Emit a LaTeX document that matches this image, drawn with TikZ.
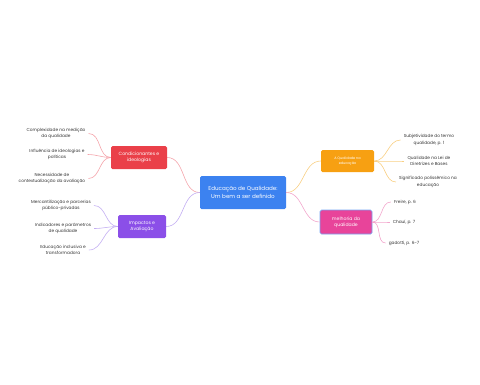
\documentclass[tikz,border=0pt]{standalone}
\usepackage{fontspec}
\setmainfont{Poppins}
\begin{document}
\begin{tikzpicture}[x=1pt,y=-1pt,
  box/.style={rounded corners=1.5pt, text=white, align=center, inner sep=0pt, font=\fontsize{4.6}{6}\selectfont},
  leaf/.style={align=center, inner sep=1pt, font=\fontsize{4.3}{6.2}\selectfont, text=black!80},
  con/.style={line width=0.6pt},
]
\useasboundingbox (0,0) rectangle (480,384);
\definecolor{cblue}{HTML}{3C82F0}
\definecolor{cred}{HTML}{EA4049}
\definecolor{cpurple}{HTML}{8B4FE8}
\definecolor{corange}{HTML}{F7A012}
\definecolor{cpink}{HTML}{E8449A}
\definecolor{lred}{HTML}{F4A3AA}
\definecolor{lpurple}{HTML}{C3AEF2}
\definecolor{lorange}{HTML}{F8CF84}
\definecolor{lpink}{HTML}{F2A6CC}

\node[box, fill=cblue, minimum width=86pt, minimum height=33pt, font=\fontsize{5.6}{7.4}\selectfont] (c) at (243,192.5) {Educação de Qualidade:\\Um bem a ser definido};
\node[box, fill=cred, minimum width=56pt, minimum height=23pt] (r) at (139,157.5) {Condicionantes e\\ideologias};
\node[box, fill=cpurple, minimum width=48pt, minimum height=23pt] (p) at (142,226.5) {Impactos e\\Avaliação};
\node[box, fill=corange, minimum width=53pt, minimum height=22pt, font=\fontsize{3.4}{4.6}\selectfont] (o) at (347.5,161) {A Qualidade na\\educação};
\node[box, fill=cpink, draw=cblue!70, line width=0.7pt, minimum width=52pt, minimum height=24pt] (k) at (346,222) {melhoria da\\qualidade};

\draw[con, lred] (c.west) to[out=180,in=0] (r.east);
\draw[con, lpurple] (c.west) to[out=180,in=0] (p.east);
\draw[con, lorange] (c.east) to[out=0,in=180] (o.west);
\draw[con, lpink] (c.east) to[out=0,in=180] (k.west);

\node[leaf] (r1) at (56,133.5) {Complexidade na medição\\da qualidade};
\node[leaf] (r2) at (57,154.5) {Influência de ideologias e\\políticas};
\node[leaf] (r3) at (52,178.5) {Necessidade de\\contextualização da avaliação};
\node[leaf] (p1) at (61,205.5) {Mercantilização e parcerias\\público-privadas};
\node[leaf] (p2) at (63,228.5) {Indicadores e parâmetros\\de qualidade};
\node[leaf] (p3) at (63,250) {Educação inclusiva e\\transformadora};
\node[leaf] (o1) at (429,140) {Subjetividade do termo\\qualidade, p. 1};
\node[leaf] (o2) at (429,161) {Qualidade na Lei de\\Diretrizes e Bases};
\node[leaf] (o3) at (428,182) {Significado polissêmico na\\educação};
\node[leaf] (k1) at (405,202) {Freire, p. 6};
\node[leaf] (k2) at (404,222) {Chauí, p. 7};
\node[leaf] (k3) at (404,243) {gadotti, p. 6-7};

\foreach \n in {r1,r2,r3} \draw[con, lred] (r.west) to[out=180,in=0] ([xshift=2pt]\n.east);
\foreach \n in {p1,p2,p3} \draw[con, lpurple] (p.west) to[out=180,in=0] ([xshift=2pt]\n.east);
\foreach \n in {o1,o2,o3} \draw[con, lorange] (o.east) to[out=0,in=180] ([xshift=-2pt]\n.west);
\foreach \n in {k1,k2,k3} \draw[con, lpink] (k.east) to[out=0,in=180] ([xshift=-2pt]\n.west);
\end{tikzpicture}
\end{document}
